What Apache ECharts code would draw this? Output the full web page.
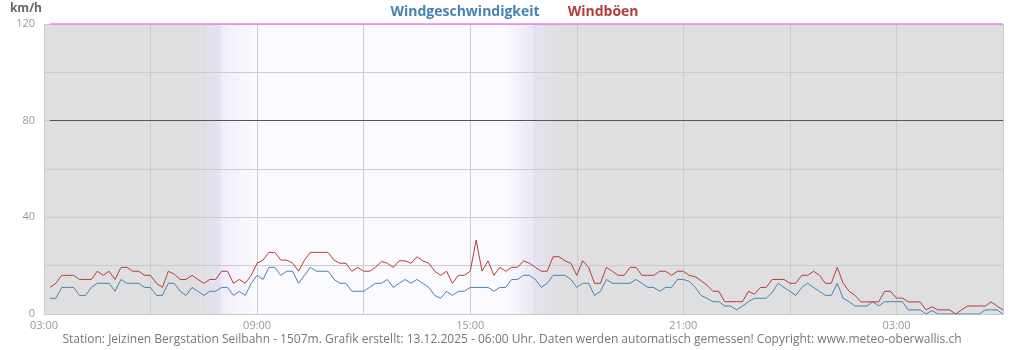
<!DOCTYPE html>
<html><head><meta charset="utf-8">
<script src="https://cdn.jsdelivr.net/npm/echarts@6/dist/echarts.min.js"></script>
<style>html,body{margin:0;padding:0;background:#fff}#c{width:1024px;height:350px}</style>
</head><body><div id="c"></div>
<script>
// 10-minute samples starting at 03:10 (sample i -> 03:00 + (i+1)*10 min)
const startHour = 3;
const stepMinutes = 10;
const windSpeed = [
6.5,6.5,11,11,11,7.7,7.7,11,12.7,12.7,12.7,9.4,14.3,12.7,12.7,12.7,11,11,7.7,7.7,
12.7,12.7,9.4,7.7,11,9.4,7.7,9.4,9.4,11,11,7.7,9.4,7.7,12.7,16,14.3,19.3,19.3,16,
17.7,17.7,12.7,16,19.3,17.7,17.7,17.7,14.3,12.7,12.7,9.4,9.4,9.4,11,12.7,12.7,14.3,11,12.7,
14.3,12.7,14.3,12.7,11,7.7,6.5,9.4,7.7,9.4,9.4,11,11,11,11,9.4,11,11,14.3,14.3,
16,16,14.3,11,12.7,16,16,16,14.3,11,12.7,12.7,7.7,9.4,14.3,12.7,12.7,12.7,12.7,14.3,
12.7,11,11,9.4,11,11,14.3,14.3,13.5,11,7.7,6.5,5.1,5.1,3.3,3.3,1.7,3.3,5.1,6.5,
6.5,6.5,8.8,12.7,11,9.4,7.7,11,12.7,11,9.4,7.7,7.7,12.7,6.5,5.1,3.3,3.3,3.3,5.1,
3.3,5.1,5.1,5.1,5.1,1.7,1.7,1.7,0,1.4,0,0,0,0,0,0,0,0,1.7,1.7,
1.7,0
];
const windGusts = [
11,12.7,16,16,16,14.3,14.3,14.3,17.7,16,17.7,14.3,19.3,19.3,17.7,17.7,16,16,12.7,11,
17.7,16.5,14.3,14.3,16,14.3,12.7,14.3,14.3,17.7,17.7,12.7,14.3,12.7,16,21,22.3,25.5,25.5,22.3,
22.3,21,17.7,22.3,25.5,25.5,25.5,25.5,22.3,21,21,17.7,19.3,17.7,17.7,19.3,21.8,21,19.3,22,
22,21,23.7,22,21,17.7,16,17.7,12.7,16,16,17.7,30.6,17.7,22,16,19.3,17.7,19.3,19.3,
22,21,19.3,17.7,17.7,23.7,23.7,22,21,16,22,19.3,12.7,12.7,19.3,17.7,16,16,19.3,19.3,
16,16,16,17.7,17.7,16,17.7,17.7,16,15.4,13.8,11.9,9.4,9.4,5.1,5.1,5.1,5.1,9.4,8.2,
11,11,14.3,14.3,14.3,12.7,12.7,16,16,17.7,16,12.7,12.7,19.3,12.7,9.4,7.7,5,5,5,
5,9.4,9.4,6.6,6.6,5,5,5,1.7,3,1.7,1.7,1.7,0,1.7,3.3,3.3,3.3,3.3,5,
3.3,1.7
];
const seriesNames = ['Windgeschwindigkeit', 'Windböen'];
const yTicks = [0, 40, 80, 120];
const refLines = [80, 120];
const footer = 'Station: Jeizinen Bergstation Seilbahn - 1507m. Grafik erstellt: 13.12.2025 - 06:00 Uhr. Daten werden automatisch gemessen! Copyright: www.meteo-oberwallis.ch';
// day/night shading (hours after 03:00)
const dawnStart = 4.4, sunrise = 5.0, fullDay = 6.0, duskStart = 13.0, sunset = 13.75, nightStart = 14.45, spanHours = 27;

const toPts = arr => arr.map((v, i) => [(i + 1) * stepMinutes / 60, v]);
const G = echarts.graphic.LinearGradient;
const chart = echarts.init(document.getElementById('c'));
const firstX = stepMinutes / 60;
chart.setOption({
  animation: false,
  textStyle: { fontFamily: 'Open Sans' },
  grid: { left: 44, right: 21, top: 24, bottom: 36 },
  title: { text: footer, left: 'center', bottom: -1,
    textStyle: { fontSize: 12, fontWeight: 'normal', color: '#777', fontFamily: 'Open Sans' } },
  legend: {
    top: 0, left: 'center', itemWidth: 0, itemHeight: 0, itemGap: 23, icon: 'rect',
    selectedMode: false, padding: [5, 12, 5, 5],
    data: [
      { name: seriesNames[0], textStyle: { color: '#4682B4' } },
      { name: seriesNames[1], textStyle: { color: '#B83B3B' } }
    ],
    textStyle: { fontSize: 14, fontWeight: 'bold', fontFamily: 'Open Sans' }
  },
  xAxis: {
    type: 'value', min: 0, max: spanHours, interval: 3, z: 3,
    axisLine: { show: true, lineStyle: { color: '#ccc' } },
    axisTick: { show: false },
    splitLine: { show: true, lineStyle: { color: '#cccccc' } },
    axisLabel: { color: '#999', fontSize: 11, margin: 6,
      formatter: v => (v % 6 === 0 ? String((startHour + v) % 24).padStart(2, '0') + ':00' : '') }
  },
  yAxis: {
    type: 'value', min: 0, max: 120, interval: 20, z: 3,
    name: 'km/h', nameLocation: 'end', nameGap: 9,
    nameTextStyle: { color: '#666', fontWeight: 'bold', fontSize: 12, align: 'right', padding: [0, 2, 0, 0] },
    axisLine: { show: false }, axisTick: { show: false },
    splitLine: { lineStyle: { color: '#cccccc' } },
    axisLabel: { color: '#999', fontSize: 11, margin: 9,
      formatter: v => (yTicks.includes(v) ? String(v) : '') }
  },
  series: [
    { type: 'line', name: '_bg', data: [], z: 1, silent: true,
      markArea: { silent: true, data: [
        [{ xAxis: 0, itemStyle: { color: '#dfdfe1' } }, { xAxis: dawnStart }],
        [{ xAxis: dawnStart, itemStyle: { color: new G(0, 0, 1, 0, [{ offset: 0, color: '#dfdfe1' }, { offset: 1, color: '#e6e2f3' }]) } }, { xAxis: sunrise }],
        [{ xAxis: sunrise, itemStyle: { color: new G(0, 0, 1, 0, [{ offset: 0, color: '#f1ecfb' }, { offset: 1, color: '#fcfbff' }]) } }, { xAxis: fullDay }],
        [{ xAxis: fullDay, itemStyle: { color: '#fbfaff' } }, { xAxis: duskStart }],
        [{ xAxis: duskStart, itemStyle: { color: new G(0, 0, 1, 0, [{ offset: 0, color: '#fbfaff' }, { offset: 1, color: '#ebe7f6' }]) } }, { xAxis: sunset }],
        [{ xAxis: sunset, itemStyle: { color: new G(0, 0, 1, 0, [{ offset: 0, color: '#e5e2f0' }, { offset: 1, color: '#dfdfe1' }]) } }, { xAxis: nightStart }],
        [{ xAxis: nightStart, itemStyle: { color: '#dfdfe1' } }, { xAxis: spanHours }]
      ] } },
    { type: 'line', name: seriesNames[0], data: toPts(windSpeed), z: 4, symbol: 'none',
      color: '#4682B4', lineStyle: { width: 1, color: '#4682B4' } },
    { type: 'line', name: seriesNames[1], data: toPts(windGusts), z: 4, symbol: 'none',
      color: '#B83B3B', lineStyle: { width: 1, color: '#B83B3B' },
      markLine: { silent: true, symbol: 'none', label: { show: false }, data: [
        [{ coord: [firstX, refLines[0]], lineStyle: { color: '#555', width: 1, type: 'solid' } }, { coord: [spanHours, refLines[0]] }],
        [{ coord: [firstX, refLines[1]], lineStyle: { color: '#ee82ee', width: 1.5, type: 'solid' } }, { coord: [spanHours, refLines[1]] }]
      ] } }
  ]
});
</script></body></html>
